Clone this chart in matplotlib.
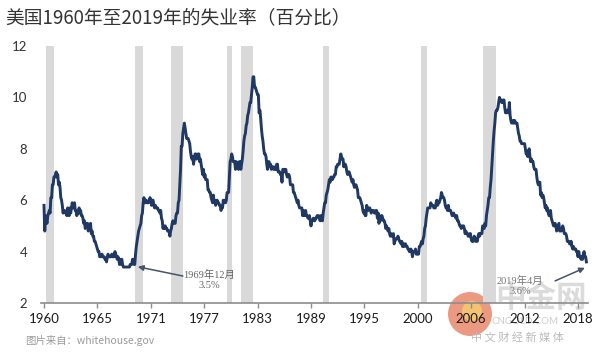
import matplotlib
matplotlib.use("Agg")
import matplotlib.pyplot as plt
from matplotlib.patches import Circle
import numpy as np

# Monthly unemployment rate (%), Jan 1960 - Apr 2019
u_1960s = [
    5.8, 4.8, 5.4, 5.2, 5.1, 5.4, 5.5, 5.6, 5.5, 6.1, 6.1, 6.6,
    6.6, 6.9, 6.9, 7.0, 7.1, 6.9, 7.0, 6.6, 6.7, 6.5, 6.1, 6.0,
    5.8, 5.5, 5.6, 5.6, 5.5, 5.5, 5.4, 5.7, 5.6, 5.4, 5.7, 5.5,
    5.7, 5.9, 5.7, 5.7, 5.9, 5.6, 5.6, 5.4, 5.5, 5.5, 5.7, 5.5,
    5.6, 5.4, 5.4, 5.3, 5.1, 5.2, 4.9, 5.0, 5.1, 5.1, 4.8, 5.0,
    4.9, 5.1, 4.7, 4.8, 4.6, 4.6, 4.4, 4.4, 4.3, 4.2, 4.1, 4.0,
    4.0, 3.8, 3.8, 3.8, 3.9, 3.8, 3.8, 3.8, 3.7, 3.7, 3.6, 3.8,
    3.9, 3.8, 3.8, 3.8, 3.8, 3.9, 3.8, 3.8, 3.8, 4.0, 3.9, 3.8,
    3.7, 3.8, 3.7, 3.5, 3.5, 3.7, 3.7, 3.5, 3.4, 3.4, 3.4, 3.4,
    3.4, 3.4, 3.4, 3.4, 3.4, 3.5, 3.5, 3.5, 3.7, 3.7, 3.5, 3.5,
]
u_1970s = [
    3.9, 4.2, 4.4, 4.6, 4.8, 4.9, 5.0, 5.1, 5.4, 5.5, 5.9, 6.1,
    5.9, 5.9, 6.0, 5.9, 5.9, 5.9, 6.0, 6.1, 6.0, 5.8, 6.0, 6.0,
    5.8, 5.7, 5.8, 5.7, 5.7, 5.7, 5.6, 5.6, 5.5, 5.6, 5.3, 5.2,
    4.9, 5.0, 4.9, 5.0, 4.9, 4.9, 4.8, 4.8, 4.8, 4.6, 4.8, 4.9,
    5.1, 5.2, 5.1, 5.1, 5.1, 5.4, 5.5, 5.5, 5.9, 6.0, 6.6, 7.2,
    8.1, 8.1, 8.6, 8.8, 9.0, 8.8, 8.6, 8.4, 8.4, 8.4, 8.3, 8.2,
    7.9, 7.7, 7.6, 7.7, 7.4, 7.6, 7.8, 7.8, 7.6, 7.7, 7.8, 7.8,
    7.5, 7.6, 7.4, 7.2, 7.0, 7.2, 6.9, 7.0, 6.8, 6.8, 6.8, 6.4,
    6.4, 6.3, 6.3, 6.1, 6.0, 5.9, 6.2, 5.9, 6.0, 5.8, 5.9, 6.0,
    5.9, 5.9, 5.8, 5.8, 5.6, 5.7, 5.7, 6.0, 5.9, 6.0, 5.9, 6.0,
]
u_1980s = [
    6.3, 6.3, 6.3, 6.9, 7.5, 7.6, 7.8, 7.7, 7.5, 7.5, 7.5, 7.2,
    7.5, 7.4, 7.4, 7.2, 7.5, 7.5, 7.2, 7.4, 7.6, 7.9, 8.3, 8.5,
    8.6, 8.9, 9.0, 9.3, 9.4, 9.6, 9.8, 9.8, 10.1, 10.4, 10.8, 10.8,
    10.4, 10.4, 10.3, 10.2, 10.1, 10.1, 9.4, 9.5, 9.2, 8.8, 8.5, 8.3,
    8.0, 7.8, 7.8, 7.7, 7.4, 7.2, 7.5, 7.5, 7.3, 7.4, 7.2, 7.3,
    7.3, 7.2, 7.2, 7.3, 7.2, 7.4, 7.4, 7.1, 7.1, 7.1, 7.0, 7.0,
    6.7, 7.2, 7.2, 7.1, 7.2, 7.2, 7.0, 6.9, 7.0, 7.0, 6.9, 6.6,
    6.6, 6.6, 6.6, 6.3, 6.3, 6.2, 6.1, 6.0, 5.9, 6.0, 5.8, 5.7,
    5.7, 5.7, 5.7, 5.4, 5.6, 5.4, 5.4, 5.6, 5.4, 5.4, 5.3, 5.3,
    5.4, 5.2, 5.0, 5.2, 5.2, 5.3, 5.2, 5.2, 5.3, 5.3, 5.4, 5.4,
]
u_1990s = [
    5.4, 5.3, 5.2, 5.4, 5.4, 5.2, 5.5, 5.7, 5.9, 5.9, 6.2, 6.3,
    6.4, 6.6, 6.8, 6.7, 6.9, 6.9, 6.8, 6.9, 6.9, 7.0, 7.0, 7.3,
    7.3, 7.4, 7.4, 7.4, 7.6, 7.8, 7.7, 7.6, 7.6, 7.3, 7.4, 7.4,
    7.3, 7.1, 7.0, 7.1, 7.1, 7.0, 6.9, 6.8, 6.7, 6.8, 6.6, 6.5,
    6.6, 6.6, 6.5, 6.4, 6.1, 6.1, 6.1, 6.0, 5.9, 5.8, 5.6, 5.5,
    5.6, 5.4, 5.4, 5.8, 5.6, 5.6, 5.7, 5.7, 5.6, 5.5, 5.6, 5.6,
    5.6, 5.5, 5.5, 5.6, 5.6, 5.3, 5.5, 5.1, 5.2, 5.2, 5.4, 5.4,
    5.3, 5.2, 5.2, 5.1, 4.9, 5.0, 4.9, 4.8, 4.9, 4.7, 4.6, 4.7,
    4.6, 4.6, 4.7, 4.3, 4.4, 4.5, 4.5, 4.5, 4.6, 4.5, 4.4, 4.4,
    4.3, 4.4, 4.2, 4.3, 4.2, 4.3, 4.3, 4.2, 4.2, 4.1, 4.1, 4.0,
]
u_2000s = [
    4.0, 4.1, 4.0, 3.8, 4.0, 4.0, 4.0, 4.1, 3.9, 3.9, 3.9, 3.9,
    4.2, 4.2, 4.3, 4.4, 4.3, 4.5, 4.6, 4.9, 5.0, 5.3, 5.5, 5.7,
    5.7, 5.7, 5.7, 5.9, 5.8, 5.8, 5.8, 5.7, 5.7, 5.7, 5.9, 6.0,
    5.8, 5.9, 5.9, 6.0, 6.1, 6.3, 6.2, 6.1, 6.1, 6.0, 5.8, 5.7,
    5.7, 5.6, 5.8, 5.6, 5.6, 5.6, 5.5, 5.4, 5.4, 5.5, 5.4, 5.4,
    5.3, 5.4, 5.2, 5.2, 5.1, 5.0, 5.0, 4.9, 5.0, 5.0, 5.0, 4.9,
    4.7, 4.8, 4.7, 4.7, 4.6, 4.6, 4.7, 4.7, 4.5, 4.4, 4.5, 4.4,
    4.6, 4.5, 4.4, 4.5, 4.4, 4.6, 4.7, 4.6, 4.7, 4.7, 4.7, 5.0,
    5.0, 4.9, 5.1, 5.0, 5.4, 5.6, 5.8, 6.1, 6.1, 6.5, 6.8, 7.3,
    7.8, 8.3, 8.7, 9.0, 9.4, 9.5, 9.5, 9.6, 9.8, 10.0, 9.9, 9.9,
]
u_2010s = [
    9.8, 9.8, 9.9, 9.9, 9.6, 9.4, 9.4, 9.5, 9.5, 9.4, 9.8, 9.3,
    9.1, 9.0, 9.0, 9.1, 9.0, 9.1, 9.0, 9.0, 9.0, 8.8, 8.6, 8.5,
    8.3, 8.3, 8.2, 8.2, 8.2, 8.2, 8.2, 8.0, 7.8, 7.8, 7.7, 7.9,
    8.0, 7.7, 7.5, 7.6, 7.5, 7.5, 7.3, 7.2, 7.2, 7.2, 6.9, 6.7,
    6.6, 6.7, 6.7, 6.2, 6.3, 6.1, 6.2, 6.1, 5.9, 5.7, 5.8, 5.6,
    5.7, 5.5, 5.4, 5.4, 5.6, 5.3, 5.2, 5.1, 5.0, 5.0, 5.1, 5.0,
    4.8, 4.9, 5.0, 5.1, 4.8, 4.9, 4.8, 4.9, 5.0, 4.9, 4.7, 4.7,
    4.7, 4.6, 4.4, 4.4, 4.4, 4.3, 4.3, 4.4, 4.2, 4.1, 4.2, 4.1,
    4.1, 4.1, 4.0, 4.0, 3.8, 4.0, 3.8, 3.8, 3.7, 3.8, 3.7, 3.9,
    4.0, 3.8, 3.8, 3.6,
]

# Recessions as (start, end) month indices counted from Jan 1960
recessions = [(3, 13), (119, 130), (166, 182), (240, 246), (258, 274),
              (366, 374), (494, 502), (575, 593)]

# x tick labels every 70 months
tick_step = 70
tick_labels = ["1960", "1965", "1971", "1977", "1983", "1989",
               "1995", "2000", "2006", "2012", "2018"]

title = "美国1960年至2019年的失业率（百分比）"
source = "图片来自：whitehouse.gov"
note1 = "1969年12月\n3.5%"
note2 = "2019年4月\n3.6%"

values = np.array(u_1960s + u_1970s + u_1980s + u_1990s + u_2000s + u_2010s)
months = np.arange(len(values))

plt.rcParams['font.family'] = ['Lato', 'Noto Sans CJK SC', 'DejaVu Sans']

W, H = 600, 353
fig = plt.figure(figsize=(W / 100, H / 100), dpi=100)
ax_l, ax_r, ax_t, ax_b = 41, 588, 46, 303
ax = fig.add_axes([ax_l / W, 1 - ax_b / H, (ax_r - ax_l) / W, (ax_b - ax_t) / H])
ax.set_facecolor('none')
ax.set_zorder(1)

px_per_month = (578 - 44) / 700.0
x0 = -(44 - ax_l) / px_per_month
x1 = x0 + (ax_r - ax_l) / px_per_month
ax.set_xlim(x0, x1)
ax.set_ylim(2, 12)

for s, e in recessions:
    ax.axvspan(s, e, color='#d9d9d9', lw=0, zorder=1)

ax.plot(months, values, color='#1f3864', lw=2.1, zorder=3, solid_joinstyle='round')

for sp in ['top', 'right', 'left']:
    ax.spines[sp].set_visible(False)
ax.spines['bottom'].set_color('#8c8c8c')
ax.spines['bottom'].set_linewidth(1.2)

ax.set_xticks(np.arange(len(tick_labels)) * tick_step)
ax.set_xticklabels(tick_labels)
ax.set_yticks([2, 4, 6, 8, 10, 12])
ax.tick_params(axis='x', direction='out', length=3.5, width=1, color='#8c8c8c',
               labelsize=9.5, labelcolor='#1a1a1a', pad=4)
ax.tick_params(axis='y', length=0, labelsize=9.5, labelcolor='#333333', pad=10)

serif_fam = ['Liberation Serif', 'Noto Sans CJK SC']
ax.annotate('', xy=(123, 3.41), xytext=(182, 3.05),
            arrowprops=dict(arrowstyle='-|>', color='#44546a', lw=1.1,
                            mutation_scale=8, shrinkA=0, shrinkB=0), zorder=4)
ax.text(217, 2.90, note1, ha='center', va='center', fontsize=7.5,
        color='#666666', family=serif_fam, linespacing=1.15, zorder=4, clip_on=False)
ax.annotate('', xy=(709, 3.37), xytext=(670, 2.86),
            arrowprops=dict(arrowstyle='-|>', color='#44546a', lw=1.1,
                            mutation_scale=8, shrinkA=0, shrinkB=0), zorder=4)
ax.text(624, 2.68, note2, ha='center', va='center', fontsize=7.5,
        color='#777777', family=serif_fam, linespacing=1.15, zorder=4, clip_on=False)

fig.text(5 / W, 1 - 18 / H, title, ha='left', va='center', fontsize=13.5,
         color='#333333', family=['Noto Sans CJK SC', 'DejaVu Sans'])
fig.text(25 / W, 1 - 341 / H, source, ha='left', va='center', fontsize=7.5,
         color='#9a9a9a', family=['Noto Sans CJK SC', 'DejaVu Sans'])

# watermark (positions in inches from bottom-left)
circ = Circle((4.70, (H - 314) / 100), 0.22, transform=fig.dpi_scale_trans,
              facecolor='#e9876c', edgecolor='none', alpha=0.85, zorder=0.5)
fig.patches.append(circ)
circ2 = Circle((4.72, (H - 311) / 100), 0.10, transform=fig.dpi_scale_trans,
               facecolor='#f6c870', edgecolor='none', alpha=0.9, zorder=0.6)
fig.patches.append(circ2)
fig.text(541 / W, 1 - 298 / H, "中金网", ha='center', va='center', fontsize=22,
         fontweight='bold', color='#cfcfcf', alpha=0.75,
         family=['Noto Sans CJK SC'], zorder=0.5)
fig.text(525 / W, 1 - 322 / H, "CNGOLD.COM", ha='center', va='center', fontsize=7,
         color='#cccccc', zorder=0.5)
fig.text(517 / W, 1 - 337 / H, "中 文 财 经 新 媒 体", ha='center', va='center',
         fontsize=8, color='#bbbbbb', family=['Noto Sans CJK SC'], zorder=0.5)

fig.savefig('out.png', dpi=100)
